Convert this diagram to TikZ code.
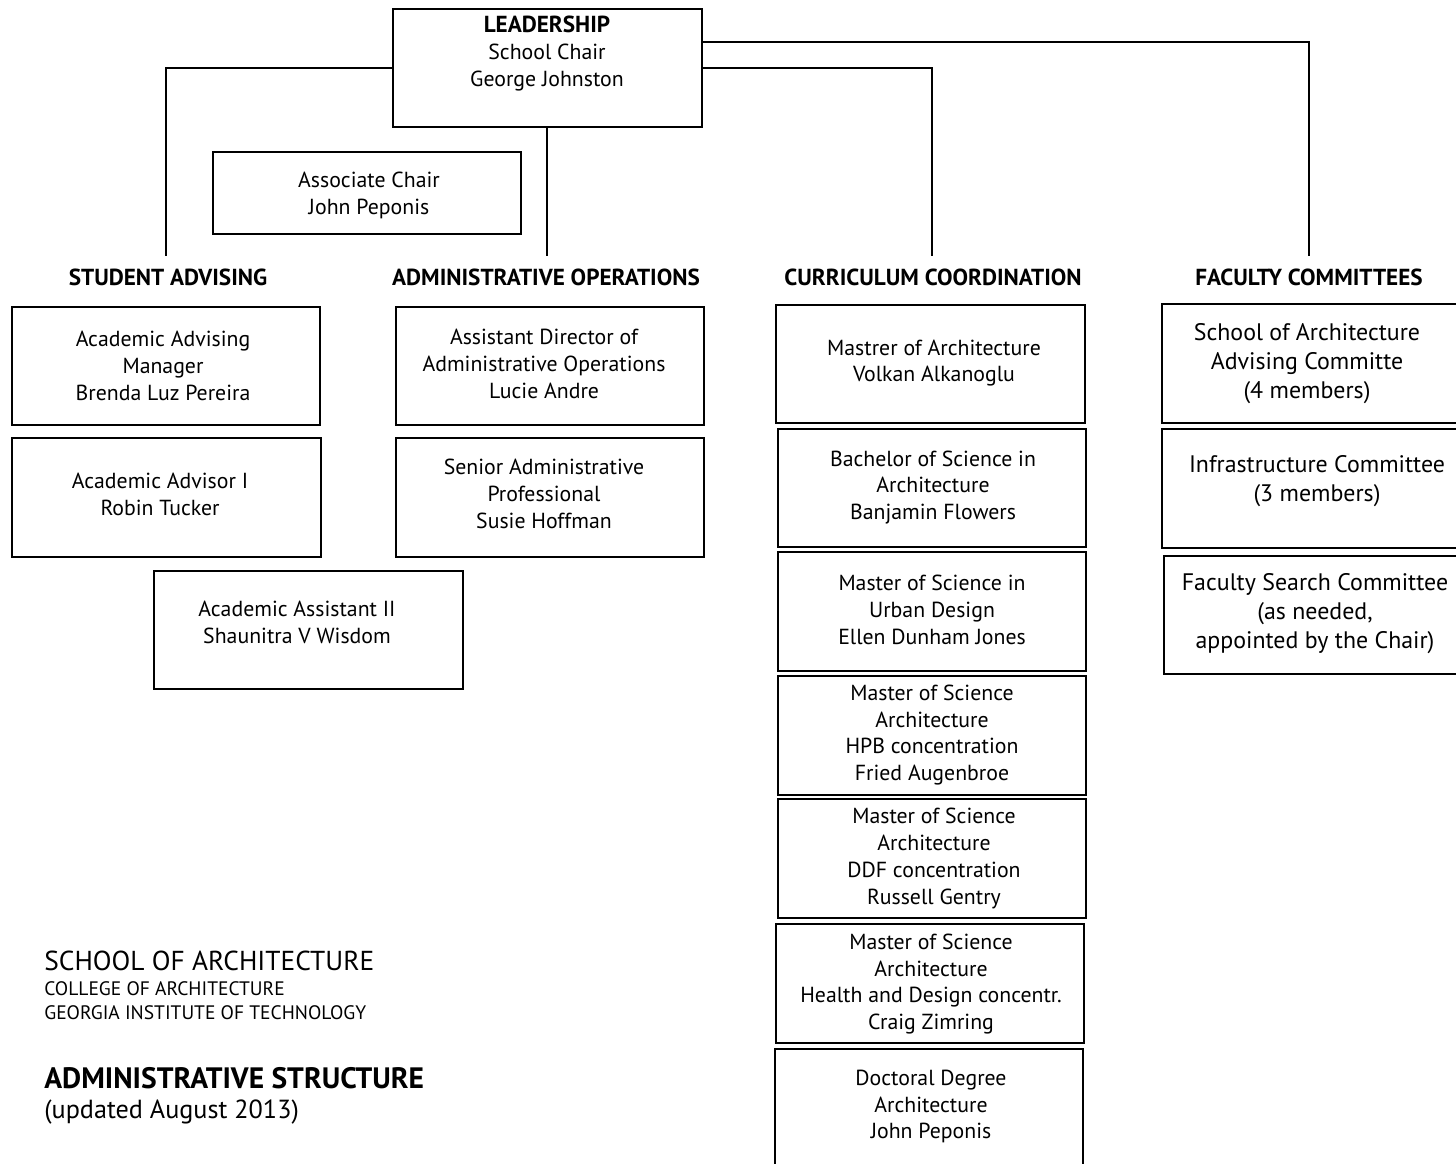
\documentclass[tikz,border=0pt]{standalone}
\usepackage{fontspec}
\setmainfont{PT Sans}
\usetikzlibrary{fit,calc}
\tikzset{
  box/.style={draw, line width=1.6pt, inner sep=0pt},
  txt/.style={align=center, inner sep=0pt, yshift=-0.05cm, font=\fontsize{12.4}{15.3}\selectfont},
  ftxt/.style={align=center, inner sep=0pt, yshift=-0.05cm, font=\fontsize{13.6}{16.4}\selectfont},
  head/.style={inner sep=0pt, font=\bfseries\fontsize{13.2}{15}\selectfont},
  conn/.style={line width=1.6pt},
  foot/.style={anchor=west, inner sep=0pt},
}
\begin{document}
\begin{tikzpicture}[x=0.02cm, y=-0.02cm]
\useasboundingbox (0,0) rectangle (1456,1163);
\clip (0,0) rectangle (1456,1163);
% leadership
\node[box, fit={(393,9) (702,127)}] (lead) {};
\node[txt] (leadt) at (547,51) {{\bfseries\fontsize{13.2}{15.3}\selectfont LEADERSHIP}\\School Chair\\George Johnston};
\node[box, fit={(213,152) (521,234)}] (assoc) {};
\node[txt] (assoct) at (369,192.5) {Associate Chair\\John Peponis};
% headers
\node[head] (hSA) at (168,277) {STUDENT ADVISING};
\node[head] (hAO) at (546,277) {ADMINISTRATIVE OPERATIONS};
\node[head] (hCC) at (933,277) {CURRICULUM COORDINATION};
\node[head] (hFC) at (1309,277) {FACULTY COMMITTEES};
\coordinate (cSA) at (166,256);
\coordinate (cAO) at (547,256);
\coordinate (cCC) at (932,256);
\coordinate (cFC) at (1309,256);
% connectors
\draw[conn] (lead.west) -| (cSA);
\draw[conn] (cAO |- lead.south) -- (cAO);
\draw[conn] (lead.east) -| (cCC);
\draw[conn] ($(lead.east)+(0,-26)$) -| (cFC);
% student advising
\node[box, fit={(12,307) (320,425)}] (sa1) {};
\node[txt] (sa1t) at (163,363.3) {Academic Advising\\Manager\\Brenda Luz Pereira};
\node[box, fit={(12,438) (321,557)}] (sa2) {};
\node[txt] (sa2t) at (160,491.5) {Academic Advisor I\\Robin Tucker};
\node[box, fit={(154,571) (463,689)}] (sa3) {};
\node[txt] (sa3t) at (297,619.5) {Academic Assistant II\\Shaunitra V Wisdom};
% administrative operations
\node[box, fit={(396,307) (704,425)}] (ao1) {};
\node[txt] (ao1t) at (544,361) {Assistant Director of\\Administrative Operations\\Lucie Andre};
\node[box, fit={(396,438) (704,557)}] (ao2) {};
\node[txt] (ao2t) at (544,491.7) {Senior Administrative\\Professional\\Susie Hoffman};
% curriculum coordination
\node[box, fit={(776,305) (1085,423)}] (cc1) {};
\node[txt] (cc1t) at (934,360.5) {Mastrer of Architecture\\Volkan Alkanoglu};
\node[box, fit={(778,429) (1086,547)}] (cc2) {};
\node[txt] (cc2t) at (933,485) {Bachelor of Science in\\Architecture\\Banjamin Flowers};
\node[box, fit={(778,552) (1086,671)}] (cc3) {};
\node[txt] (cc3t) at (932,607) {Master of Science in\\Urban Design\\Ellen Dunham Jones};
\node[box, fit={(778,676) (1086,795)}] (cc4) {};
\node[txt] (cc4t) at (932,732.5) {Master of Science\\Architecture\\HPB concentration\\Fried Augenbroe};
\node[box, fit={(778,799) (1086,918)}] (cc5) {};
\node[txt] (cc5t) at (934,856) {Master of Science\\Architecture\\DDF concentration\\Russell Gentry};
\node[box, fit={(776,924) (1084,1043)}] (cc6) {};
\node[txt] (cc6t) at (931,981.5) {Master of Science\\Architecture\\Health and Design concentr.\\Craig Zimring};
\node[box, fit={(775,1049) (1083,1180)}] (cc7) {};
\node[txt] (cc7t) at (931,1104) {Doctoral Degree\\Architecture\\John Peponis};
% faculty committees
\node[box, fit={(1162,304) (1475,423)}] (fc1) {};
\node[ftxt] (fc1t) at (1307,361) {School of Architecture\\Advising Committe\\(4 members)};
\node[box, fit={(1162,429) (1475,548)}] (fc2) {};
\node[ftxt] (fc2t) at (1317,478.5) {Infrastructure Committee\\(3 members)};
\node[box, fit={(1164,556) (1475,674)}] (fc3) {};
\node[ftxt] (fc3t) at (1315,611) {Faculty Search Committee\\(as needed,\\appointed by the Chair)};
% footer
\node[foot, font=\fontsize{15.6}{18}\selectfont] (f1) at (44,961) {SCHOOL OF ARCHITECTURE};
\node[foot, font=\fontsize{11.1}{13}\selectfont] (f2) at (44,989) {COLLEGE OF ARCHITECTURE};
\node[foot, font=\fontsize{11.1}{13}\selectfont] (f3) at (44,1013) {GEORGIA INSTITUTE OF TECHNOLOGY};
\node[foot, font=\bfseries\fontsize{16.8}{19}\selectfont] (f4) at (44,1078) {ADMINISTRATIVE STRUCTURE};
\node[foot, font=\fontsize{14.9}{17}\selectfont] (f5) at (44,1112) {(updated August 2013)};
\end{tikzpicture}
\end{document}
